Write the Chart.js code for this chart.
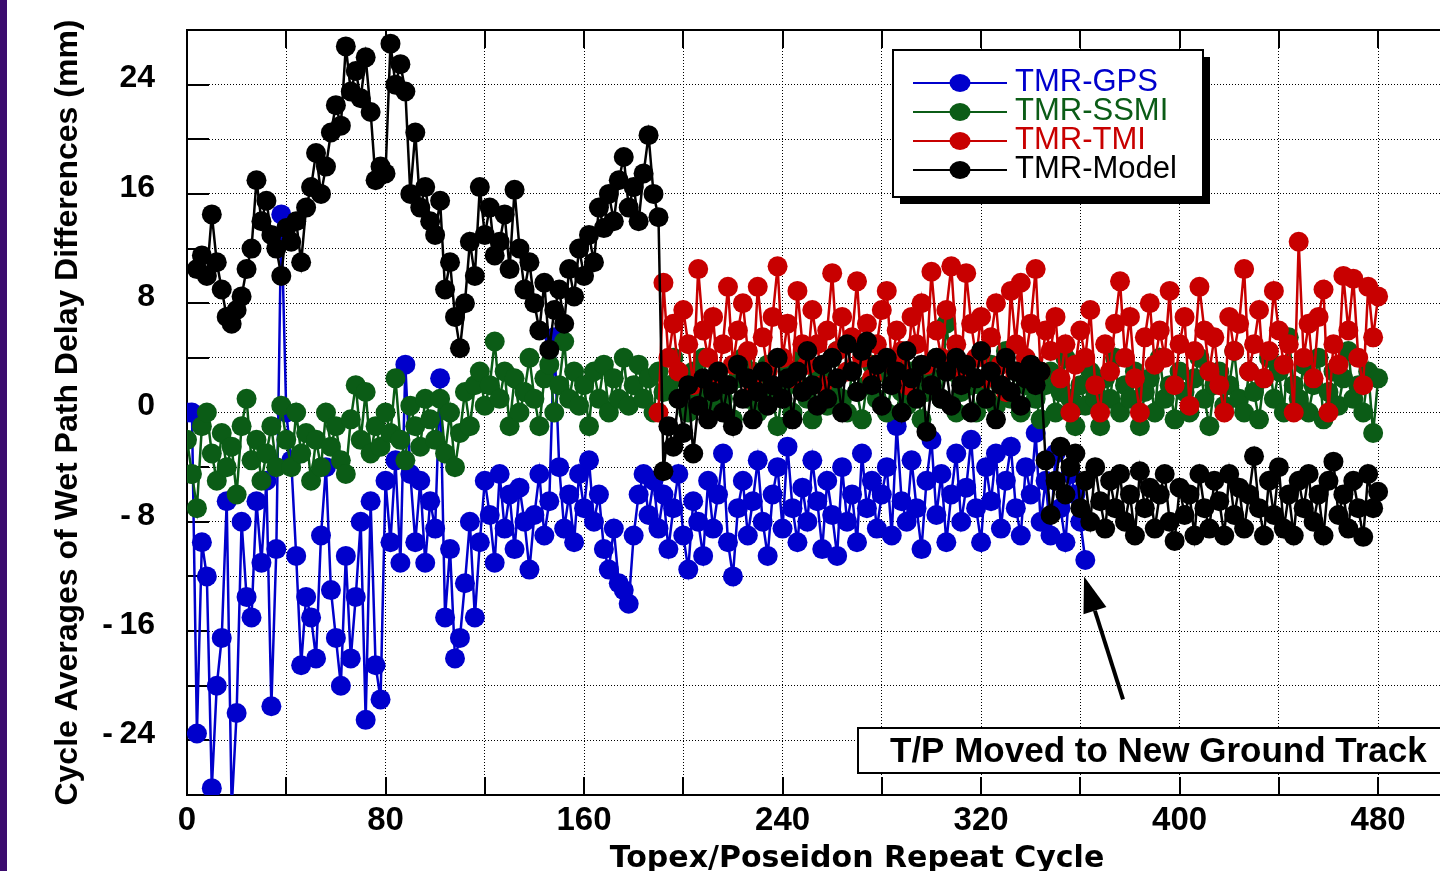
<!DOCTYPE html>
<html>
<head>
<meta charset="utf-8">
<title>Cycle Averages of Wet Path Delay Differences</title>
<script src="https://cdn.jsdelivr.net/npm/chart.js@4.4.1/dist/chart.umd.min.js"></script>
<style>
  html, body { margin: 0; padding: 0; background: #fff; overflow: hidden; }
  #strip { position: absolute; left: 0; top: 0; width: 7px; height: 871px; background: #3b0b6e; z-index: 2; }
  #wrap { position: absolute; left: 0; top: 0; width: 1560px; height: 871px; }
</style>
</head>
<body>
<div id="strip"></div>
<div id="wrap"><canvas id="chart"></canvas></div>
<script>
// repeat cycles (one sample every 2 cycles)
const cycles = [0,2,4,6,8,10,12,14,16,18,20,22,24,26,28,30,32,34,36,38,
  40,42,44,46,48,50,52,54,56,58,60,62,64,66,68,70,72,74,76,78,
  80,82,84,86,88,90,92,94,96,98,100,102,104,106,108,110,112,114,116,118,
  120,122,124,126,128,130,132,134,136,138,140,142,144,146,148,150,152,154,156,158,
  160,162,164,166,168,170,172,174,176,178,180,182,184,186,188,190,192,194,196,198,
  200,202,204,206,208,210,212,214,216,218,220,222,224,226,228,230,232,234,236,238,
  240,242,244,246,248,250,252,254,256,258,260,262,264,266,268,270,272,274,276,278,
  280,282,284,286,288,290,292,294,296,298,300,302,304,306,308,310,312,314,316,318,
  320,322,324,326,328,330,332,334,336,338,340,342,344,346,348,350,352,354,356,358,
  360,362,364,366,368,370,372,374,376,378,380,382,384,386,388,390,392,394,396,398,
  400,402,404,406,408,410,412,414,416,418,420,422,424,426,428,430,432,434,436,438,
  440,442,444,446,448,450,452,454,456,458,460,462,464,466,468,470,472,474,476,478,480];

// TMR-GPS, cycles 0..362
const gps = [0, 0, -23.5, -9.5, -12, -27.5, -20, -16.5, -6.5, -29,
  -22, -8, -13.5, -15, -6.5, -11, -5, -21.5, -10, 14.5,
  0, -3.5, -10.5, -18.5, -13.5, -15, -18, -9, -4, -13,
  -16.5, -20, -10.5, -18, -13.5, -8, -22.5, -6.5, -18.5, -21,
  -5, -9.5, -3.5, -11, 3.5, -4.5, -9.5, -5, -11, -6.5,
  -8.5, 2.5, -15, -10, -18, -16.5, -12.5, -8, -15, -9.5,
  -5, -7.5, -11, -4.5, -8.5, -6, -10, -5.5, -8, -11.5,
  -7.5, -4.5, -9, -6.5, 5.5, -4, -8.5, -6, -9.5, -4.5,
  -7, -3.5, -8, -6, -10, -11.5, -8.5, -12.5, -13, -14,
  -9, -6, -4.5, -7.5, -5, -8.5, -6, -10, -7, -4.5,
  -9, -11.5, -6.5, -8, -10.5, -5, -8.5, -6, -3, -9.5,
  -12, -7, -5, -9, -6.5, -3.5, -8, -10.5, -6, -4,
  -8.5, -2.5, -7, -9.5, -5.5, -8, -3.5, -6.5, -10, -5,
  -7.5, -10.5, -4, -8, -6, -9.5, -3, -7, -5, -8.5,
  -6, -4, -9, -1, -6.5, -8, -3.5, -7, -10, -5,
  -2, -7.5, -4.5, -9.5, -6, -3, -8, -5.5, -2, -7,
  -9.5, -4, -6.5, -3, -8.5, -5, -2.5, -7, -9, -4,
  -6, -1.5, -8, -5, -9, -3, -7, -9.5, -4.5, -6,
  -8, -10.8];

// TMR-SSMI, cycles 0..480
const ssmi = [-2, -4.5, -7, -1, 0, -3, -5, -1.5, -4, -2.5,
  -6, -1, 1, -3.5, -2, -5, -3, -1, -4, 0.5,
  -2, -4, 0, -3, -1.5, -5, -2, -4, 0, -2.5,
  -1, -3.5, -4.5, -0.5, 2, -2, 1.5, -3, -1, -2.5,
  0, -1.5, 2.5, -2, -3.5, 0.5, -1, -2.5, 1, -0.5,
  -2, 1, -3, 0, -4, -1.5, 1.5, -1, 2, 3,
  0.5, 2, 5.2, 1, 3, -1, 2.5, 0, 1.5, 4,
  1, -1, 2.5, 3.5, 0, 2, 5.2, 1, 3, 0.5,
  2, -1, 3, 1, 3.5, 0, 2.5, 1, 4, 0.5,
  2, 3.5, 1, 2.5, 0, 3, 1.5, 2, 4, 1,
  2.5, 0, 3, 1.5, 4, 2, 0.5, 3, 1, 2,
  -0.5, 2.5, 4, 1, 3, 0, 2, 3.5, 1, -1,
  1.5, 3, 0, 2, 4, 1, -0.5, 2.5, 3, 0.5,
  2, 4.5, 1, 0, 3, 1.5, -0.5, 2, 3.5, 1,
  3, 0, 2, 4, 1.5, 0.5, 3, 2, -0.5, 1.5,
  2.5, 4, 1, 6.5, 3, 0, 1.5, 3, 2, 0,
  2, 1, 3.5, 0.5, 2, 4.5, 1, 3, 0, 2,
  3.5, 1, -0.5, 2, 3, 0, 1.5, 4, 1, -1,
  2, 0.5, 3, 1, -1, 2.5, 1, 4, 0, 2,
  1, 3, -1, 1.5, 2.5, 0, 4, 1, 2, -0.5,
  3, 1.5, 0, 2.5, 4, 1, -1, 2, 3, 0.5,
  2, 4.5, 1, 0, 3, 1.5, -0.5, 2.5, 4, 1,
  3, 0, 5.5, 2, 1, 3.5, 0, 2, 4, -0.5,
  1.5, 3, 0.5, 2.5, 4.5, 1, 2, 0, 3, -1.5,
  2.5];

// TMR-TMI, cycles 190..480
const tmi = [0, 9.5, 4, 6.5, 3, 7.5, 5, 2, 10.5, 6,
  4, 7, 2.5, 5, 9.2, 3.5, 6, 8, 4.5, 2,
  9.2, 5.5, 3, 7, 10.7, 4, 6.5, 2.5, 8.9, 5,
  3.5, 7.5, 5, 2, 6, 10.2, 4.5, 7, 3, 5.5,
  9.6, 4, 6.5, 2.5, 5, 7.5, 8.9, 3.5, 6, 4.5,
  2, 7, 5, 8, 3.5, 10.3, 6, 4, 7.5, 10.7,
  5, 3, 10.2, 6.5, 4, 7, 2.5, 5.5, 8, 3.5,
  1.5, 8.9, 5, 9.5, 4, 6.5, 10.5, 3, 6, 4.5,
  7, 2.5, 5, 0, 3.5, 6, 4, 7.5, 2, 0,
  5, 3, 6.5, 9.6, 4, 7, 2.5, 0, 5.5, 8,
  3.5, 6, 4, 8.9, 2, 5, 7, 0.5, 4.5, 9.2,
  6, 3, 5.5, 2, 0, 7, 4.5, 6.5, 10.5, 3,
  5, 7.5, 2.5, 4.5, 8.9, 6, 3.5, 5, 0, 12.5,
  4, 6.5, 2.5, 7, 9, 0, 5, 3.5, 10, 6,
  9.8, 4, 2, 9.2, 5.5, 8.5];

// TMR-Model, cycles 4..480
const model = [10.5, 11.5, 10, 14.5, 11, 9, 7, 6.5, 7.5, 8.5,
  10.5, 12, 17, 14, 15.5, 13, 12, 10, 13.5, 12.5,
  14, 11, 15, 16.5, 19, 16, 18, 20.5, 22.5, 21,
  26.8, 23.5, 25, 23, 26, 22, 17, 18, 17.5, 27,
  24, 25.5, 23.5, 16, 20.5, 15, 16.5, 14, 13, 15.5,
  9, 11, 7, 4.7, 8, 12.5, 10, 16.5, 13, 15,
  11.5, 12.5, 14.5, 10.5, 16.3, 12, 9, 11, 8, 6,
  9.5, 4.6, 7.5, 9, 6.5, 10.5, 8.5, 12, 10, 13,
  11, 15, 13.5, 16, 14, 17, 18.7, 15, 16.5, 14,
  17.5, 20.3, 16, 14.3, -4.3, -1, -2.5, 1, -1.5, 2,
  -3, 0.5, 2.5, -0.5, 1.5, 3, 0, 2, -1, 3.5,
  1, 2.5, -0.5, 1.5, 3, 0.5, 2, 4, 1, 2.5,
  -0.5, 3, 1.5, 4.5, 2, 0.5, 3.5, 1, 4, 2.5,
  0, 5, 3, 1.5, 4.5, 5.2, 2, 3.5, 0.5, 4,
  2, 3, 0, 4.5, 2.5, 1, 3.5, -1.4, 2, 4,
  1, 3, 0.5, 4, 2, 3.5, 0, 2.5, 4.5, 1,
  3, -0.5, 2, 4, 1.5, 3, 0.5, 2.5, 3.5, 2,
  3, -3.5, -7.5, -5, -2.5, -6, -4, -3, -7, -5,
  -8, -4, -6.5, -8.5, -5, -7, -4.5, -8, -6, -9,
  -4.3, -7, -5.5, -8.5, -6, -4.5, -8, -9.4, -5.5, -7.5,
  -6, -9, -4.5, -7, -8.5, -5, -6.5, -9, -4.5, -7.5,
  -5.5, -8.5, -6, -3.2, -7, -9, -5, -7.5, -4, -8.5,
  -6, -9, -5, -7, -4.5, -8, -6, -9, -5, -3.6,
  -7.5, -6, -8.5, -5, -7, -9.1, -4.5, -7, -5.8];

const seriesNames = ['TMR-GPS', 'TMR-SSMI', 'TMR-TMI', 'TMR-Model'];
const seriesColors = ['#0000cc', '#0b5c16', '#c80000', '#000000'];
const noteText = 'T/P Moved to New Ground Track';

function points(values, startCycle) {
  const s = cycles.indexOf(startCycle);
  return values.map((v, i) => ({ x: cycles[s + i], y: v }));
}

function series(i, values, startCycle, order) {
  return {
    label: seriesNames[i],
    data: points(values, startCycle),
    borderColor: seriesColors[i],
    backgroundColor: seriesColors[i],
    borderWidth: 2.5,
    pointRadius: 10,
    pointHoverRadius: 10,
    pointBorderWidth: 0,
    tension: 0,
    order: order
  };
}

// inside ticks, frame, legend box, note and arrow
const decorations = {
  id: 'decorations',
  beforeDatasetsDraw(chart) {
    const { ctx, chartArea: a, scales: { x, y } } = chart;
    ctx.save();
    ctx.strokeStyle = '#000';
    ctx.lineWidth = 2;
    ctx.beginPath();
    x.ticks.forEach(t => {
      const px = Math.round(x.getPixelForValue(t.value));
      ctx.moveTo(px, a.bottom); ctx.lineTo(px, a.bottom - 18);
      ctx.moveTo(px, a.top); ctx.lineTo(px, a.top + 18);
    });
    y.ticks.forEach(t => {
      const py = Math.round(y.getPixelForValue(t.value));
      ctx.moveTo(a.left, py); ctx.lineTo(a.left + 22, py);
      ctx.moveTo(a.right, py); ctx.lineTo(a.right - 22, py);
    });
    ctx.stroke();
    ctx.strokeRect(a.left, a.top, a.right - a.left, a.bottom - a.top);
    ctx.restore();
  },
  afterDatasetsDraw(chart) {
    const { ctx, chartArea: a, scales: { x, y } } = chart;
    ctx.save();

    // legend
    const lx = a.left + 706, ly = a.top + 20, lw = 310, lh = 147;
    ctx.fillStyle = '#000';
    ctx.fillRect(lx + 7, ly + 7, lw, lh);
    ctx.fillStyle = '#fff';
    ctx.fillRect(lx, ly, lw, lh);
    ctx.strokeStyle = '#000';
    ctx.lineWidth = 2;
    ctx.strokeRect(lx, ly, lw, lh);
    ctx.font = "31px 'Liberation Sans', Arial, sans-serif";
    ctx.textBaseline = 'alphabetic';
    seriesNames.forEach((name, i) => {
      const ry = ly + 33 + i * 29;
      ctx.strokeStyle = seriesColors[i];
      ctx.fillStyle = seriesColors[i];
      ctx.lineWidth = 2;
      ctx.beginPath();
      ctx.moveTo(lx + 20, ry); ctx.lineTo(lx + 114, ry);
      ctx.stroke();
      ctx.beginPath();
      ctx.ellipse(lx + 67, ry, 10.5, 9, 0, 0, Math.PI * 2);
      ctx.fill();
      ctx.fillText(name, lx + 122, ry + 8);
    });

    // note box
    const bx = a.left + 671, by = a.bottom - 67, bh = 45;
    ctx.fillStyle = '#fff';
    ctx.fillRect(bx, by, a.right - bx + 40, bh);
    ctx.strokeStyle = '#000';
    ctx.lineWidth = 2;
    ctx.strokeRect(bx, by, a.right - bx + 40, bh);
    ctx.fillStyle = '#000';
    ctx.font = "bold 35px 'Liberation Sans', Arial, sans-serif";
    ctx.fillText(noteText, bx + 32, by + 34);

    // arrow pointing at the last GPS cycle
    const hx = x.getPixelForValue(361.5), hy = y.getPixelForValue(-12.0);
    const tx = x.getPixelForValue(377.2), ty = y.getPixelForValue(-21.0);
    const ang = Math.atan2(ty - hy, tx - hx);
    const ux = Math.cos(ang), uy = Math.sin(ang);
    const baseX = hx + ux * 36, baseY = hy + uy * 36;
    ctx.strokeStyle = '#000';
    ctx.lineWidth = 4;
    ctx.beginPath();
    ctx.moveTo(baseX, baseY); ctx.lineTo(tx, ty);
    ctx.stroke();
    ctx.beginPath();
    ctx.moveTo(hx, hy);
    ctx.lineTo(baseX - uy * 12, baseY + ux * 12);
    ctx.lineTo(baseX + uy * 12, baseY - ux * 12);
    ctx.closePath();
    ctx.fill();
    ctx.restore();
  }
};

function noPad(s) {
  s.paddingTop = 0; s.paddingBottom = 0; s.paddingLeft = 0; s.paddingRight = 0;
}

new Chart(document.getElementById('chart'), {
  type: 'line',
  data: {
    datasets: [
      series(0, gps, 0, 4),
      series(1, ssmi, 0, 3),
      series(2, tmi, 190, 2),
      series(3, model, 4, 1)
    ]
  },
  options: {
    responsive: true,
    maintainAspectRatio: false,
    animation: false,
    layout: { padding: { top: 30, right: 33, bottom: 0, left: 0 } },
    plugins: { legend: { display: false }, tooltip: { enabled: false } },
    scales: {
      x: {
        type: 'linear',
        min: 0,
        max: 540,
        afterFit: s => { s.height = 76; noPad(s); },
        grid: { color: '#000', lineWidth: 1, drawTicks: false },
        border: { display: true, color: '#000', width: 2, dash: [1, 2] },
        ticks: {
          stepSize: 40,
          autoSkip: false,
          maxRotation: 0,
          padding: 6,
          color: '#000',
          font: { family: "'Liberation Sans', Arial, sans-serif", weight: 'bold', size: 33 },
          callback: v => (v % 80 === 0 ? String(v) : '')
        },
        title: {
          display: true,
          text: 'Topex/Poseidon Repeat Cycle',
          color: '#000',
          font: { family: "'DejaVu Sans', sans-serif", weight: 'bold', size: 30, lineHeight: 1 },
          padding: { top: 0, bottom: -3 }
        }
      },
      y: {
        min: -28,
        max: 28,
        afterFit: s => { s.width = 187; noPad(s); },
        grid: { color: '#000', lineWidth: 1, drawTicks: false },
        border: { display: true, color: '#000', width: 2, dash: [1, 2] },
        ticks: {
          stepSize: 4,
          autoSkip: false,
          padding: 32,
          labelOffset: -6,
          color: '#000',
          font: { family: "'Liberation Sans', Arial, sans-serif", weight: 'bold', size: 32 },
          callback: v => (v % 8 !== 0 ? '' : (v < 0 ? '-\u2009' + (-v) : String(v)))
        },
        title: {
          display: true,
          text: 'Cycle Averages of Wet Path Delay Differences (mm)',
          color: '#000',
          font: { family: "'Liberation Sans', Arial, sans-serif", weight: 'bold', size: 32, lineHeight: 1 },
          padding: { top: 52, bottom: 0 }
        }
      }
    }
  },
  plugins: [decorations]
});
</script>
</body>
</html>
